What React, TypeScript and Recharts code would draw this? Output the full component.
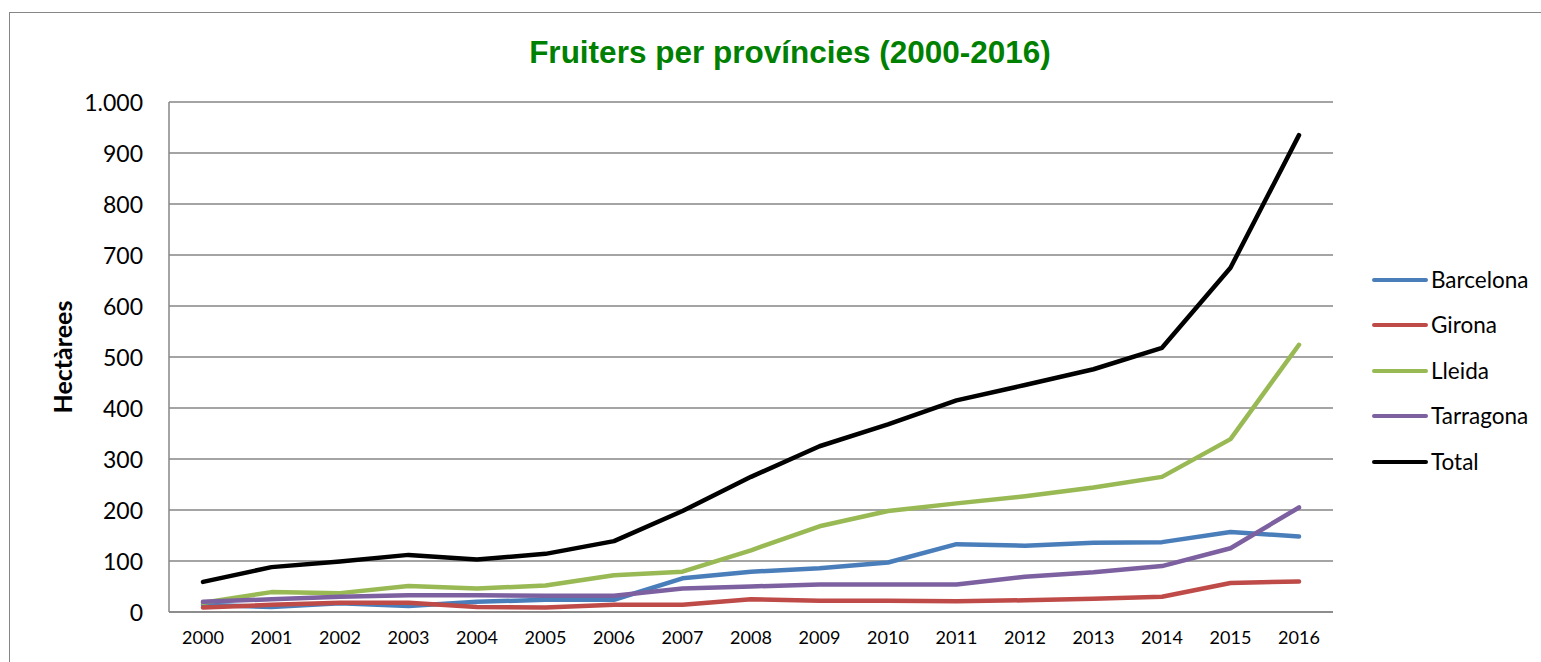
import React from 'react';
import { LineChart, Line, XAxis, YAxis, CartesianGrid } from 'recharts';

const years = ['2000', '2001', '2002', '2003', '2004', '2005', '2006', '2007', '2008', '2009', '2010', '2011', '2012', '2013', '2014', '2015', '2016'];
const barcelona = [14, 10, 17, 12, 20, 24, 24, 66, 79, 86, 97, 133, 130, 136, 137, 157, 148];
const girona = [9, 14, 18, 18, 10, 9, 14, 14, 25, 22, 22, 21, 23, 26, 30, 57, 60];
const lleida = [18, 39, 37, 51, 46, 52, 72, 79, 121, 168, 198, 213, 227, 244, 265, 339, 524];
const tarragona = [20, 25, 30, 33, 33, 32, 32, 46, 50, 54, 54, 54, 69, 78, 90, 125, 205];
const total = [59, 88, 99, 112, 103, 114, 139, 198, 265, 325, 368, 415, 445, 476, 518, 675, 935];
const yTicks = [0, 100, 200, 300, 400, 500, 600, 700, 800, 900, 1000];

const seriesNames = ['Barcelona', 'Girona', 'Lleida', 'Tarragona', 'Total'];
const seriesColors = ['#4A7EBB', '#BE4B48', '#98B954', '#7D60A0', '#000000'];
const seriesValues = [barcelona, girona, lleida, tarragona, total];

const data = years.map((y, i) => {
  const row: any = { year: y };
  seriesNames.forEach((n, k) => { row[n] = seriesValues[k][i]; });
  return row;
});

const fmt = (v: number) => String(v).replace(/\B(?=(\d{3})+(?!\d))/g, '.');

const XTick = (props: any) => (
  <text x={props.x} y={637} textAnchor="middle" dominantBaseline="central" fontFamily="Lato" fontSize={18} fill="#000">
    {props.payload.value}
  </text>
);

const YTick = (props: any) => (
  <text x={143} y={props.y} textAnchor="end" dominantBaseline="central" fontFamily="Lato" fontSize={23} fill="#000">
    {fmt(props.payload.value)}
  </text>
);

export default function App() {
  return (
    <div style={{ position: 'absolute', left: 0, top: 0, width: 1541, height: 662, overflow: 'hidden', background: '#fff' }}>
      <div style={{ position: 'absolute', left: 9, top: 12, width: 1600, height: 700, borderTop: '1.5px solid #868686', borderLeft: '1.5px solid #868686' }} />
      <div style={{ position: 'absolute', left: 0, top: 0 }}>
        <LineChart width={1541} height={662} data={data} margin={{ top: 102, right: 208, left: 0, bottom: 0 }}>
          <CartesianGrid vertical={false} stroke="#868686" strokeWidth={1.5} />
          <XAxis dataKey="year" height={50} padding={{ left: 34, right: 34 }} tickLine={false} axisLine={{ stroke: '#868686', strokeWidth: 1.5 }} tick={<XTick />} interval={0} />
          <YAxis width={169} domain={[0, 1000]} ticks={yTicks} tickLine={false} axisLine={{ stroke: '#868686', strokeWidth: 1.5 }} tick={<YTick />} interval={0} />
          {seriesNames.map((n, k) => (
            <Line key={n} type="linear" dataKey={n} stroke={seriesColors[k]} strokeWidth={4.5} dot={false} activeDot={false} isAnimationActive={false} strokeLinecap="round" strokeLinejoin="round" />
          ))}
        </LineChart>
      </div>
      <div style={{ position: 'absolute', left: 1371, top: 257, width: 170 }}>
        {seriesNames.map((n, k) => (
          <div key={n} style={{ display: 'flex', alignItems: 'center', height: 45.5 }}>
            <svg width={58} height={8} style={{ display: 'block' }}>
              <line x1={3} y1={4} x2={55} y2={4} stroke={seriesColors[k]} strokeWidth={4} strokeLinecap="round" />
            </svg>
            <span style={{ fontFamily: 'Lato', fontSize: 22.5, color: '#000', marginLeft: 2, lineHeight: '26px' }}>{n}</span>
          </div>
        ))}
      </div>
      <svg style={{ position: 'absolute', left: 0, top: 0, pointerEvents: 'none' }} width={1541} height={662}>
        <text x={790} y={52} textAnchor="middle" dominantBaseline="central" fontFamily="Liberation Sans" fontWeight="bold" fontSize={31.5} fill="#008000">
          Fruiters per províncies (2000-2016)
        </text>
        <text x={62} y={357} textAnchor="middle" dominantBaseline="central" fontFamily="Lato" fontWeight="bold" fontSize={25} fill="#000" transform="rotate(-90 62 357)">
          Hectàrees
        </text>
      </svg>
    </div>
  );
}
